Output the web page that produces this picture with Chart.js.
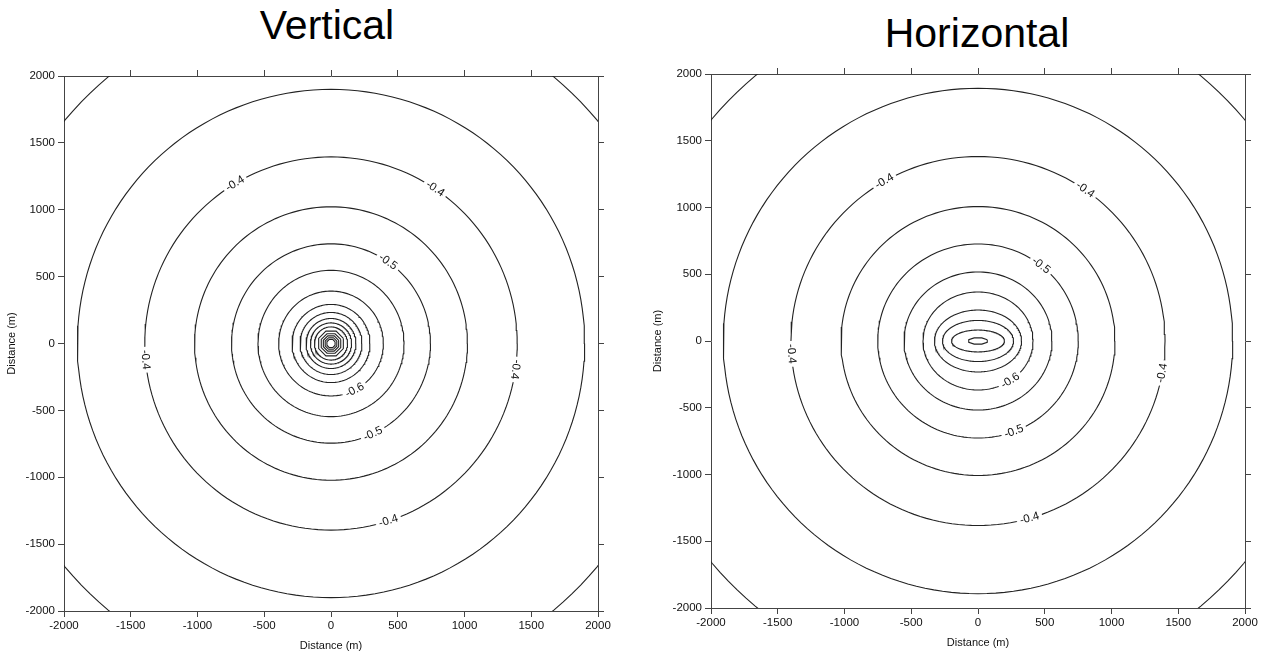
<!DOCTYPE html>
<html>
<head>
<meta charset="utf-8">
<script src="https://cdn.jsdelivr.net/npm/chart.js@4.4.1/dist/chart.umd.min.js"></script>
<style>
  html, body { margin: 0; padding: 0; background: #fff; }
  body { width: 1268px; height: 656px; position: relative; overflow: hidden; font-family: 'Liberation Sans', Arial, sans-serif; }
  .panel { position: absolute; top: 0; width: 634px; height: 656px; }
  .title { position: absolute; font-size: 41px; line-height: 41px; color: #000; white-space: nowrap; transform: translateX(-50%); }
</style>
</head>
<body>
<div class="title" style="left:327px; top:5px">Vertical</div>
<div class="title" style="left:977px; top:13px">Horizontal</div>
<div class="panel" style="left:0"><canvas id="vert" width="634" height="656"></canvas></div>
<div class="panel" style="left:634px"><canvas id="horz" width="634" height="656"></canvas></div>
<script>
// axis range (m)
const axisMin = -2000;
const axisMax = 2000;
const axisStep = 500;

// Vertical: contour radii (m), outermost first
const vertRadius = [2600, 1900, 1395, 1022, 745, 547, 392, 292, 232, 187, 154, 124, 100, 79, 62, 47, 33];

// Horizontal: contour half-widths / half-heights (m)
const horzRadiusX = [2600, 1908, 1401, 1026, 751, 554, 412, 326, 266, 198, 75];
const horzRadiusY = [2590, 1893, 1382, 1007, 727, 517, 367, 232, 154, 82, 25];

// contour labels: text, contour index, angle round the centre (deg)
const vertLabelText = ['-0.4', '-0.4', '-0.4', '-0.4', '-0.4', '-0.5', '-0.5', '-0.6'];
const vertLabelContour = [2, 2, 2, 2, 2, 4, 4, 6];
const vertLabelAngle = [121, 56, 185, 352, 288, 55, 295, 297];

const horzLabelText = ['-0.4', '-0.4', '-0.4', '-0.4', '-0.4', '-0.5', '-0.5', '-0.6'];
const horzLabelContour = [2, 2, 2, 2, 2, 4, 4, 6];
const horzLabelAngle = [120, 55, 184, 350, 286, 51, 291, 306];

const FONT = "'Liberation Sans', Arial, sans-serif";
const LINE = '#222';
const AXIS = '#444';

// closed ring of points for one contour
function ring(rx, ry) {
  const small = Math.max(rx, ry) < 110;
  const n = small ? 8 : 180;
  const off = small ? Math.PI / 8 : 0;
  const pts = [];
  for (let i = 0; i <= n; i++) {
    const t = off + i * 2 * Math.PI / n;
    pts.push({ x: rx * Math.cos(t), y: ry * Math.sin(t) });
  }
  return pts;
}

function labelPlugin(rxs, rys, texts, contours, angles) {
  return {
    id: 'contourLabels',
    afterDatasetsDraw(chart) {
      const { ctx, chartArea } = chart;
      const xs = chart.scales.x, ys = chart.scales.y;
      ctx.save();
      ctx.beginPath();
      ctx.rect(chartArea.left, chartArea.top, chartArea.right - chartArea.left, chartArea.bottom - chartArea.top);
      ctx.clip();
      ctx.font = '11.5px ' + FONT;
      texts.forEach((txt, k) => {
        const c = contours[k];
        const t = angles[k] * Math.PI / 180;
        const px = xs.getPixelForValue(rxs[c] * Math.cos(t));
        const py = ys.getPixelForValue(rys[c] * Math.sin(t));
        const tx = xs.getPixelForValue(-rxs[c] * Math.sin(t)) - xs.getPixelForValue(0);
        const ty = ys.getPixelForValue(rys[c] * Math.cos(t)) - ys.getPixelForValue(0);
        let rot = Math.atan2(ty, tx);
        while (rot > Math.PI * 100 / 180) rot -= Math.PI;
        while (rot <= -Math.PI * 80 / 180) rot += Math.PI;
        const w = ctx.measureText(txt).width;
        ctx.save();
        ctx.translate(px, py);
        ctx.rotate(rot);
        ctx.fillStyle = '#fff';
        ctx.fillRect(-w / 2 - 3, -5, w + 6, 10);
        ctx.fillStyle = '#111';
        ctx.textAlign = 'center';
        ctx.textBaseline = 'middle';
        ctx.fillText(txt, 0, 0);
        ctx.restore();
      });
      ctx.restore();
    }
  };
}

function axis(position, box, labels, title) {
  const horizontal = position === 'top' || position === 'bottom';
  return {
    type: 'linear',
    position: position,
    min: axisMin,
    max: axisMax,
    ticks: {
      display: labels,
      stepSize: axisStep,
      autoSkip: false,
      maxRotation: 0,
      padding: horizontal ? 2 : 3,
      color: '#111',
      font: { family: FONT, size: 11.5 },
      callback: v => String(v)
    },
    grid: { drawOnChartArea: false, drawTicks: true, tickLength: 6, color: AXIS, lineWidth: 1 },
    border: { display: true, color: AXIS, width: 1 },
    title: title ? {
      display: true,
      text: 'Distance (m)',
      color: '#111',
      font: { family: FONT, size: 11 },
      padding: title
    } : { display: false },
    afterBuildTicks: position === 'top' ? s => { s.ticks = s.ticks.filter(t => Math.abs(t.value) < axisMax); } : undefined,
    afterFit: s => { if (horizontal) s.height = box; else s.width = box; }
  };
}

function contourChart(id, rxs, rys, texts, contours, angles, boxes) {
  const datasets = rxs.map((rx, i) => ({
    data: ring(rx, rys[i]),
    showLine: true,
    pointRadius: 0,
    borderColor: LINE,
    borderWidth: 1.1,
    fill: false,
    tension: 0
  }));
  return new Chart(document.getElementById(id), {
    type: 'scatter',
    data: { datasets: datasets },
    options: {
      responsive: false,
      animation: false,
      layout: { padding: 0 },
      plugins: { legend: { display: false }, tooltip: { enabled: false }, title: { display: false } },
      scales: {
        x: axis('bottom', boxes.bottom, true, { top: 0, bottom: boxes.xTitle }),
        x2: axis('top', boxes.top, false, null),
        y: axis('left', boxes.left, true, { top: boxes.yTitle, bottom: 0 }),
        y2: axis('right', boxes.right, false, null)
      }
    },
    plugins: [labelPlugin(rxs, rys, texts, contours, angles)]
  });
}

contourChart('vert', vertRadius, vertRadius, vertLabelText, vertLabelContour, vertLabelAngle,
  { left: 64, right: 36, top: 76, bottom: 45, xTitle: 3.4, yTitle: 5 });
contourChart('horz', horzRadiusX, horzRadiusY, horzLabelText, horzLabelContour, horzLabelAngle,
  { left: 77, right: 23, top: 74, bottom: 48, xTitle: 6.4, yTitle: 17 });
</script>
</body>
</html>
